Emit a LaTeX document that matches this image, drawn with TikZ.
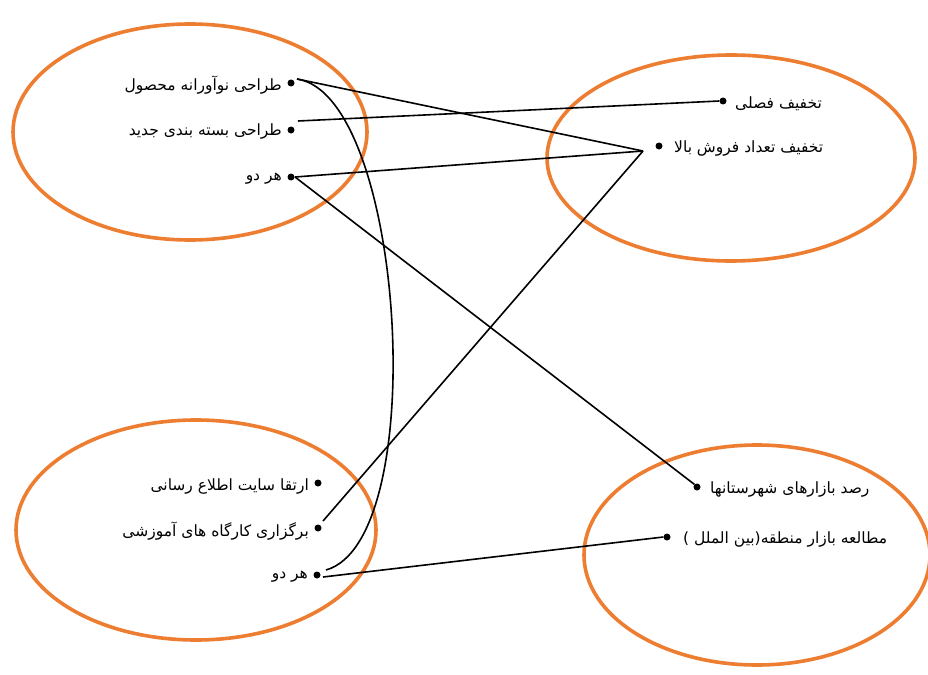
\documentclass[tikz,border=0pt]{standalone}
\usepackage{fontspec}
\newfontfamily\arabicfont[Script=Arabic]{DejaVu Sans}
\TeXXeTstate=1
\definecolor{ellorange}{RGB}{237,125,49}
\begin{document}
\begin{tikzpicture}[x=1pt,y=-1pt,
  grp/.style={draw=ellorange,line width=3.6pt},
  dot/.style={circle,fill=black,inner sep=0pt,minimum size=7pt},
  lbl/.style={font=\arabicfont\fontsize{15.5}{18}\selectfont,inner sep=0pt},
  con/.style={draw=black,line width=1.6pt}]
\useasboundingbox (0,0) rectangle (928,674);
% ellipses
\draw[grp] (190,132) ellipse [x radius=177, y radius=108];
\draw[grp] (731,158) ellipse [x radius=184, y radius=103];
\draw[grp] (196,530) ellipse [x radius=180, y radius=110];
\draw[grp] (757,555) ellipse [x radius=173, y radius=110];
% top-left
\node[dot] (a1) at (291,83) {};
\node[dot] (a2) at (291,130) {};
\node[dot] (a3) at (291,177) {};
\node[lbl,anchor=east] (ta1) at (282,85) {\beginR طراحی نوآورانه محصول\endR};
\node[lbl,anchor=east] (ta2) at (282,132) {\beginR طراحی بسته بندی جدید\endR};
\node[lbl,anchor=east] (ta3) at (282,179) {\beginR هر دو\endR};
% top-right
\node[dot] (b1) at (723,101) {};
\node[dot] (b2) at (659,146) {};
\node[lbl,anchor=west] (tb1) at (735,104) {\beginR تخفیف فصلی\endR};
\node[lbl,anchor=west] (tb2) at (674,149) {\beginR تخفیف تعداد فروش بالا\endR};
% bottom-left
\node[dot] (c1) at (318,483) {};
\node[dot] (c2) at (318,528) {};
\node[dot] (c3) at (317,575) {};
\node[lbl,anchor=east] (tc1) at (309,486) {\beginR ارتقا سایت اطلاع رسانی\endR};
\node[lbl,anchor=east] (tc2) at (309,531) {\beginR برگزاری کارگاه های آموزشی\endR};
\node[lbl,anchor=east] (tc3) at (308,577) {\beginR هر دو\endR};
% bottom-right
\node[dot] (d1) at (697,487) {};
\node[dot] (d2) at (667,537) {};
\node[lbl,anchor=west] (td1) at (710,489) {\beginR رصد بازارهای شهرستانها\endR};
\node[lbl,anchor=west] (td2) at (683,539) {\beginR مطالعه بازار منطقه(بین الملل )\endR};
% connector end points
\coordinate (j) at (643,151);
\coordinate (a1e) at (297,79);
\coordinate (a2e) at (298,121);
\coordinate (a3e) at (295,177);
\coordinate (c2e) at (323,521);
\coordinate (c3e) at (326,570);
\coordinate (c3f) at (323,577);
% connectors
\draw[con] (a1e) -- (j);
\draw[con] (a2e) -- (b1.west);
\draw[con] (a3e) -- (j);
\draw[con] (j) -- (c2e);
\draw[con] (a3e) -- (d1.north west);
\draw[con] (a1e) .. controls (405,95) and (432,540) .. (c3e);
\draw[con] (c3f) -- (d2.west);
\end{tikzpicture}
\end{document}
